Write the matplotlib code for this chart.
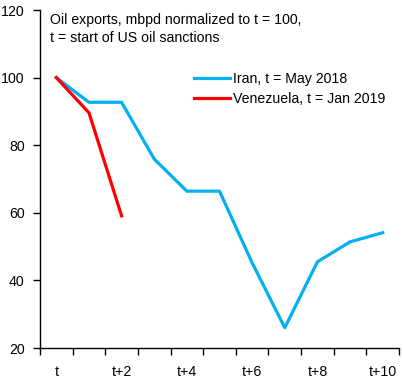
import matplotlib
matplotlib.use("Agg")
import matplotlib.pyplot as plt
import numpy as np

# categories t .. t+10
periods = ["t", "t+1", "t+2", "t+3", "t+4", "t+5", "t+6", "t+7", "t+8", "t+9", "t+10"]
iran = [100, 92.7, 92.7, 75.9, 66.4, 66.4, 45.2, 26.0, 45.5, 51.4, 54.1]
venezuela = [100, 89.6, 59.1]
x_labels = ["t", "t+2", "t+4", "t+6", "t+8", "t+10"]

plt.rcParams["font.family"] = ["Liberation Sans", "DejaVu Sans"]
plt.rcParams["font.size"] = 10.2

fig = plt.figure(figsize=(4.03, 3.79), dpi=100)
ax = fig.add_axes([40/403, 31/379, 359/403, 338/379])

x = np.arange(len(periods))
ax.plot(x, iran, color="#00B0F0", linewidth=2.3, label="Iran, t = May 2018")
ax.plot(x[:len(venezuela)], venezuela, color="#FF0000", linewidth=2.3, label="Venezuela, t = Jan 2019")

ax.set_xlim(-0.5, len(periods) - 0.5)
ax.set_ylim(20, 120)
ax.set_yticks(np.arange(20, 121, 20))

# tick marks between categories, labels every second category
ax.set_xticks(np.arange(-0.5, len(periods), 1.0))
ax.set_xticklabels([])
ax.set_xticks(np.arange(0, len(periods), 2), minor=True)
ax.set_xticklabels(x_labels, minor=True)
ax.tick_params(axis="x", which="minor", length=0, pad=12)
ax.tick_params(axis="x", which="major", length=5, width=1)
ax.tick_params(axis="y", length=5, width=1, pad=6)

for s in ["top", "right"]:
    ax.spines[s].set_visible(False)
for s in ["left", "bottom"]:
    ax.spines[s].set_linewidth(1)
    ax.spines[s].set_color("black")

ax.text(0.028, 0.992, "Oil exports, mbpd normalized to t = 100,\nt = start of US oil sanctions",
        transform=ax.transAxes, va="top", ha="left", linespacing=1.35)

ax.legend(loc="upper left", bbox_to_anchor=(0.412, 0.834), frameon=False,
          handlelength=2.6, handletextpad=0.2, labelspacing=0.45, borderaxespad=0)

fig.savefig("out.png", dpi=100)
